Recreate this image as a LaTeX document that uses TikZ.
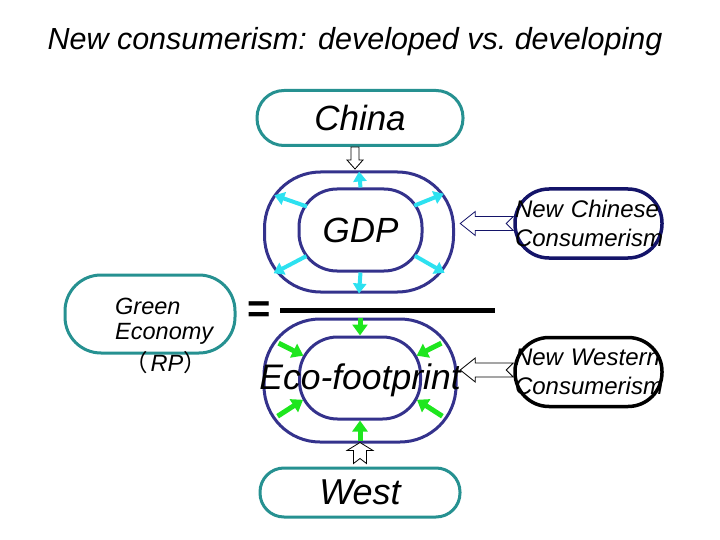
\documentclass[tikz,border=0pt]{standalone}
\usepackage{fontspec}
\setmainfont{Liberation Sans}
\newfontfamily\cjkfont{Noto Sans CJK SC}
\usetikzlibrary{positioning, arrows.meta}

\definecolor{boxteal}{RGB}{38,145,145}
\definecolor{ringblue}{RGB}{52,50,140}
\definecolor{ovalnavy}{RGB}{20,20,105}
\definecolor{arrcyan}{RGB}{45,225,240}
\definecolor{arrgreen}{RGB}{30,230,30}

\tikzset{
  place/.style={draw=boxteal, line width=3pt, inner sep=0pt,
    font=\fontsize{35}{40}\selectfont\itshape},
  ring/.style={draw=ringblue, line width=3pt, inner sep=0pt},
  oval/.style={line width=3.5pt, rounded corners=34pt, minimum width=147pt,
    minimum height=69pt, text width=147pt, align=left, inner sep=0pt,
    font=\fontsize{24}{29}\selectfont\itshape},
  cyarrow/.style={draw=arrcyan, line width=4pt, -{Triangle[length=10pt,width=13pt]}},
  grarrow/.style={draw=arrgreen, line width=5pt, -{Triangle[length=11pt,width=15pt]}},
  hollowline/.style={draw, fill=white, line width=0.8pt, line join=miter}
}

\begin{document}
\begin{tikzpicture}[x=1pt, y=-1pt]
  \useasboundingbox (0,0) rectangle (720,540);

  \node[font=\fontsize{30.5}{36}\selectfont\itshape] (title) at (355,42)
    {New consumerism: developed vs.\ developing};

  % top and bottom places
  \node[place, rounded corners=27pt, minimum width=206pt, minimum height=55pt] (china) at (360,118) {China};
  \node[place, rounded corners=24pt, minimum width=200pt, minimum height=49pt,
    font=\fontsize{36}{40}\selectfont\itshape] (west) at (360,492.5) {West};
  \node[place, rounded corners=36pt, minimum width=170pt, minimum height=78pt] (green) at (150,314) {};
  \node[anchor=west, align=left, inner sep=0pt, font=\fontsize{23.5}{25}\selectfont\itshape] (greentext) at (115,336)
    {Green\\Economy\\[7pt]\hspace*{9pt}{\cjkfont （}\hspace{3pt}RP{\cjkfont ）}};

  % rings
  \node[ring, rounded corners=56pt, minimum width=189pt, minimum height=120pt] (gdpout) at (359,232) {};
  \node[ring, rounded corners=38pt, minimum width=123pt, minimum height=82pt,
    font=\fontsize{35}{40}\selectfont\itshape] (gdpin) at (360.5,230) {GDP};
  \node[ring, rounded corners=56pt, minimum width=192pt, minimum height=123pt] (ecoout) at (360,380.5) {};
  \node[ring, rounded corners=38pt, minimum width=121pt, minimum height=82pt] (ecoin) at (360,378) {};
  \node[font=\fontsize{35.5}{40}\selectfont\itshape] (ecotext) at (360,380) {Eco-footprint};

  % consumerism ovals
  \node[oval, draw=ovalnavy] (ncc) at (588.5,223.5) {\mbox{New Chinese}\\\mbox{Consumerism}};
  \node[oval, draw=black] (nwc) at (588.5,372) {\mbox{New Western}\\\mbox{Consumerism}};

  % equals sign and bar
  \node[font=\fontsize{40}{40}\selectfont\bfseries] (eq) at (259.5,312.5) {=};
  \coordinate (barstart) at (280,310);
  \coordinate (barend) at (495,310);
  \draw[line width=5pt] (barstart) -- (barend);

  % growth arrows
  \draw[cyarrow, shorten >=1pt] (gdpin.north) -- (gdpout.north);
  \draw[cyarrow] (gdpin.south) -- (gdpout.south);
  \draw[cyarrow, shorten <=-10pt, shorten >=12pt] (gdpin.157) -- (gdpout.157);
  \draw[cyarrow, shorten <=-10pt, shorten >=12pt] (gdpin.24) -- (gdpout.24);
  \draw[cyarrow, shorten <=-10pt, shorten >=12pt] (gdpin.206) -- (gdpout.206);
  \draw[cyarrow, shorten <=-10pt, shorten >=12pt] (gdpin.334) -- (gdpout.334);

  % shrinking arrows
  \draw[grarrow] (ecoout.north) -- (ecoin.north);
  \draw[grarrow, shorten <=3pt] (ecoout.south) -- (ecoin.south);
  \draw[grarrow, shorten <=18pt, shorten >=-6pt] (ecoout.155) -- (ecoin.158);
  \draw[grarrow, shorten <=18pt, shorten >=-6pt] (ecoout.25) -- (ecoin.22);
  \draw[grarrow, shorten <=18pt, shorten >=-6pt] (ecoout.205) -- (ecoin.202);
  \draw[grarrow, shorten <=18pt, shorten >=-6pt] (ecoout.335) -- (ecoin.338);

  % hollow arrows
  \draw[hollowline] ([xshift=-9pt]china.south) -- ++(0,13) -- ++(-4,0) -- ++(8,9)
    -- ++(8,-9) -- ++(-4,0) -- ++(0,-13) -- cycle;
  \draw[hollowline] ([xshift=-6.5pt,yshift=3pt]west.north) -- ++(0,-13) -- ++(-6.5,0) -- ++(13,-8)
    -- ++(13,8) -- ++(-6.5,0) -- ++(0,13) -- ++(-6.5,-5) -- cycle;
  \draw[hollowline, draw=ovalnavy] ([yshift=7pt]ncc.west) -- ++(-38,0) -- ++(0,-5) -- ++(-15,12)
    -- ++(15,12) -- ++(0,-5) -- ++(38,0) -- ++(-7,-7) -- cycle;
  \draw[hollowline] ([yshift=9pt]nwc.west) -- ++(-38,0) -- ++(0,-5) -- ++(-15,12)
    -- ++(15,12) -- ++(0,-5) -- ++(38,0) -- ++(-7,-7) -- cycle;
\end{tikzpicture}
\end{document}
